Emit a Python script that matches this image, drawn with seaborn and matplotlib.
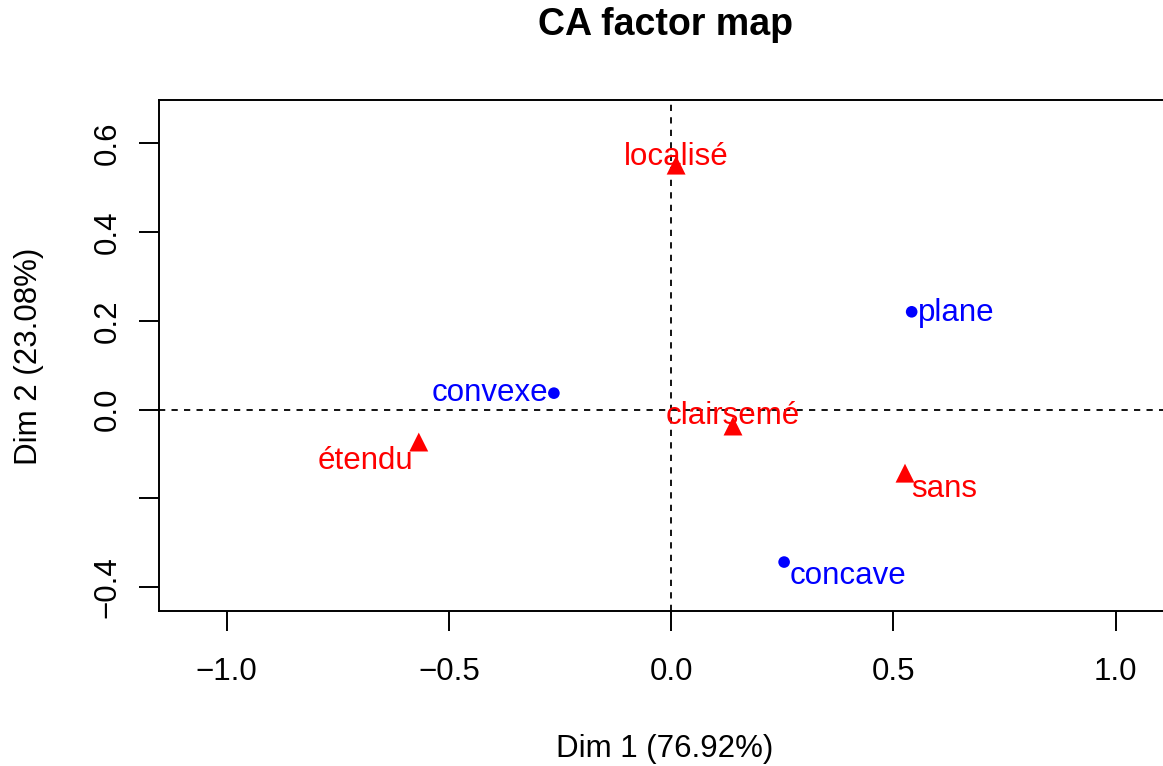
import pandas as pd
import matplotlib
matplotlib.use('Agg')
import matplotlib.pyplot as plt
import seaborn as sns

# ── Data (CA coordinates) ─────────────────────────────────────────────────────
col_names = ['plane', 'convexe', 'concave']
col_dim1  = [0.541, -0.264, 0.254]
col_dim2  = [0.220, 0.037, -0.343]

row_names = ['localisé', 'clairsemé', 'étendu', 'sans']
row_dim1  = [0.011, 0.139, -0.568, 0.526]
row_dim2  = [0.550, -0.037, -0.073, -0.143]

x_ticks = [-1.0, -0.5, 0.0, 0.5, 1.0]
y_ticks = [-0.4, -0.2, 0.0, 0.2, 0.4, 0.6]
y_tick_labels = ['−0.4', '', '0.0', '0.2', '0.4', '0.6']
x_tick_labels = ['−1.0', '−0.5', '0.0', '0.5', '1.0']

dim1_label = 'Dim 1 (76.92%)'
dim2_label = 'Dim 2 (23.08%)'
title = 'CA factor map'

df = pd.DataFrame({
    'name': col_names + row_names,
    'dim1': col_dim1 + row_dim1,
    'dim2': col_dim2 + row_dim2,
    'kind': ['col'] * len(col_names) + ['row'] * len(row_names),
})

# ── Style ─────────────────────────────────────────────────────────────────────
sns.set_theme(style='ticks')
plt.rcParams['font.family'] = ['Liberation Sans', 'DejaVu Sans']
plt.rcParams['text.color'] = 'black'
plt.rcParams['lines.scale_dashes'] = False
FS = 22.5

palette = {'col': '#0000FF', 'row': '#FF0000'}
markers = {'col': 'o', 'row': '^'}
sizes   = {'col': 70, 'row': 185}

# label placement: (ha, dx px, dy px of baseline from point)
label_pos = {
    'plane':     ('left',   6,  -9),
    'convexe':   ('right', -6,  -8),
    'concave':   ('left',   6, -22),
    'localisé':  ('center', 0,   0),
    'clairsemé': ('center', 0,   2),
    'étendu':    ('right', -6, -27),
    'sans':      ('left',   6, -24),
}

W, H = 1163, 766
fig = plt.figure(figsize=(W / 100, H / 100), dpi=100)
left, right, top, bottom = 159, 1175, 100, 611
ax = fig.add_axes([left / W, (H - bottom) / H, (right - left) / W, (bottom - top) / H])

sns.scatterplot(data=df, x='dim1', y='dim2', hue='kind', style='kind', size='kind',
                palette=palette, markers=markers, sizes=sizes,
                linewidth=0, legend=False, ax=ax, zorder=3)

ax.axhline(0, color='black', lw=1.3, ls=(0, (4.5, 4.5)), zorder=1)
ax.axvline(0, color='black', lw=1.3, ls=(0, (4.5, 4.5)), zorder=1)

for name, x, y, kind in zip(df['name'], df['dim1'], df['dim2'], df['kind']):
    ha, dx, dy = label_pos[name]
    ax.annotate(name, (x, y), xytext=(dx * 0.72, dy * 0.72), textcoords='offset points',
                ha=ha, va='baseline', color=palette[kind], fontsize=FS, zorder=4)

ax.set_xlim(-1.1525, 1.1335)
ax.set_ylim(-0.4531, 0.6965)

ax.set_xticks(x_ticks)
ax.set_xticklabels(x_tick_labels)
ax.set_yticks(y_ticks)
ax.set_yticklabels(y_tick_labels, rotation=90, va='center')
ax.tick_params(direction='out', length=14.4, width=1.4, color='black',
               labelsize=FS, labelcolor='black')
ax.tick_params(axis='x', pad=19)
ax.tick_params(axis='y', pad=12)

for sp in ax.spines.values():
    sp.set_visible(True)
    sp.set_color('black')
    sp.set_linewidth(1.4)

ax.set_xlabel('')
ax.set_ylabel('')
cx = 665 / W
fig.text(cx, 9 / H, dim1_label, ha='center', va='baseline', fontsize=FS, color='black')
fig.text(37 / W, 1 - 356 / H, dim2_label, ha='center', va='baseline',
         rotation=90, rotation_mode='anchor', fontsize=FS, color='black')
fig.text(cx, 1 - 35 / H, title, ha='center', va='baseline', fontsize=27,
         fontweight='bold', color='black')

fig.savefig('out.png', dpi=100)
